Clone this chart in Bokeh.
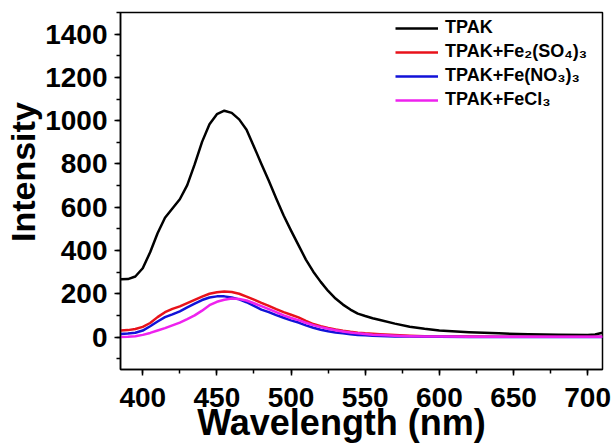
from bokeh.plotting import figure
from bokeh.models import Legend, LegendItem, SingleIntervalTicker, Range1d
from bokeh.embed import file_html
from bokeh.resources import INLINE

wavelength = [385, 390, 395, 400, 405, 410, 415, 420, 425, 430, 435, 440, 445, 450, 455,
              460, 465, 470, 475, 480, 485, 490, 495, 500, 505, 510, 515, 520, 525, 530,
              535, 540, 545, 550, 555, 560, 570, 580, 590, 600, 620, 640, 660, 680, 700,
              705, 710]

tpak = [267, 268, 280, 318, 392, 480, 551, 594, 637, 702, 798, 902, 983, 1030, 1046,
        1036, 1006, 958, 880, 800, 722, 640, 562, 492, 425, 358, 302, 255, 213, 178,
        150, 127, 108, 97, 87, 79, 62, 48, 38, 30, 22, 17, 13, 11, 10,
        12, 20]

tpak_so4 = [30, 32, 37, 47, 65, 92, 115, 130, 142, 157, 172, 187, 200, 207, 210,
            208, 200, 187, 173, 158, 144, 129, 115, 103, 91, 75, 60, 50, 42, 35,
            29, 24, 20, 17, 15, 13, 9, 6, 4, 3, 2, 1, 1, 1, 1,
            1, 1]

tpak_no3 = [14, 16, 20, 30, 50, 72, 92, 105, 119, 137, 154, 171, 183, 188, 188,
            183, 174, 161, 144, 127, 115, 101, 89, 77, 67, 54, 43, 34, 27, 21,
            17, 13, 10, 8, 6, 5, 3, 2, 1, 1, 0, 0, 0, 0, 0,
            0, 0]

tpak_cl = [0, 1, 4, 10, 19, 30, 41, 54, 67, 83, 100, 122, 147, 163, 172,
           178, 176, 169, 156, 143, 129, 115, 100, 88, 78, 66, 55, 46, 38, 31,
           26, 21, 17, 14, 11, 9, 6, 4, 3, 2, 1, 1, 1, 1, 1,
           1, 1]

labels = ["TPAK", "TPAK+Fe\u2082(SO\u2084)\u2083", "TPAK+Fe(NO\u2083)\u2083", "TPAK+FeCl\u2083"]
colors = ["#000000", "#e8121a", "#1212d8", "#ee22ee"]
series = [tpak, tpak_so4, tpak_no3, tpak_cl]

# non-breaking padding keeps the titles slightly off-centre, as in the original
x_title = "Wavelength (nm)" + "\u00a0" * 4
y_title = "\u00a0" * 4 + "Intensity"

FONT = "Liberation Sans"

p = figure(width=614, height=445, output_backend="svg", toolbar_location=None,
           x_range=Range1d(385, 710), y_range=Range1d(-150, 1500),
           min_border_left=120, min_border_right=12, min_border_top=12, min_border_bottom=76)

p.xgrid.visible = False
p.ygrid.visible = False
p.outline_line_color = "black"
p.outline_line_width = 1.5
p.background_fill_color = "white"
p.border_fill_color = "white"

renderers = []
for ys, c in zip(series, colors):
    r = p.line(wavelength, ys, line_color=c, line_width=2.5, line_join="round")
    renderers.append(r)

p.xaxis.ticker = SingleIntervalTicker(interval=50, num_minor_ticks=2)
p.yaxis.ticker = SingleIntervalTicker(interval=200, num_minor_ticks=2)

for ax in (p.xaxis, p.yaxis):
    ax.axis_line_width = 1.5
    ax.major_tick_line_width = 1.5
    ax.minor_tick_line_width = 1.5
    ax.major_tick_in = 0
    ax.major_tick_out = 6
    ax.minor_tick_in = 0
    ax.minor_tick_out = 4
    ax.major_label_text_font = FONT
    ax.major_label_text_font_style = "bold"
    ax.major_label_text_font_size = "28px"
    ax.major_label_text_color = "black"
    ax.axis_label_text_font = FONT
    ax.axis_label_text_font_style = "bold"
    ax.axis_label_text_color = "black"

p.xaxis.axis_label = x_title
p.yaxis.axis_label = y_title
p.xaxis.axis_label_text_font_size = "36px"
p.yaxis.axis_label_text_font_size = "34px"
p.xaxis.major_label_standoff = 12
p.yaxis.major_label_standoff = 7
p.xaxis.axis_label_standoff = -8
p.yaxis.axis_label_standoff = 0

legend = Legend(items=[LegendItem(label=l, renderers=[r]) for l, r in zip(labels, renderers)],
                location=(275, 259), margin=0, padding=0, spacing=3,
                glyph_width=43, glyph_height=20, label_height=20, label_standoff=7,
                label_text_font=FONT, label_text_font_style="bold",
                label_text_font_size="18px", label_text_color="black",
                border_line_alpha=0, background_fill_alpha=0)
p.add_layout(legend)

open("out.html", "w").write(file_html(p, INLINE))
